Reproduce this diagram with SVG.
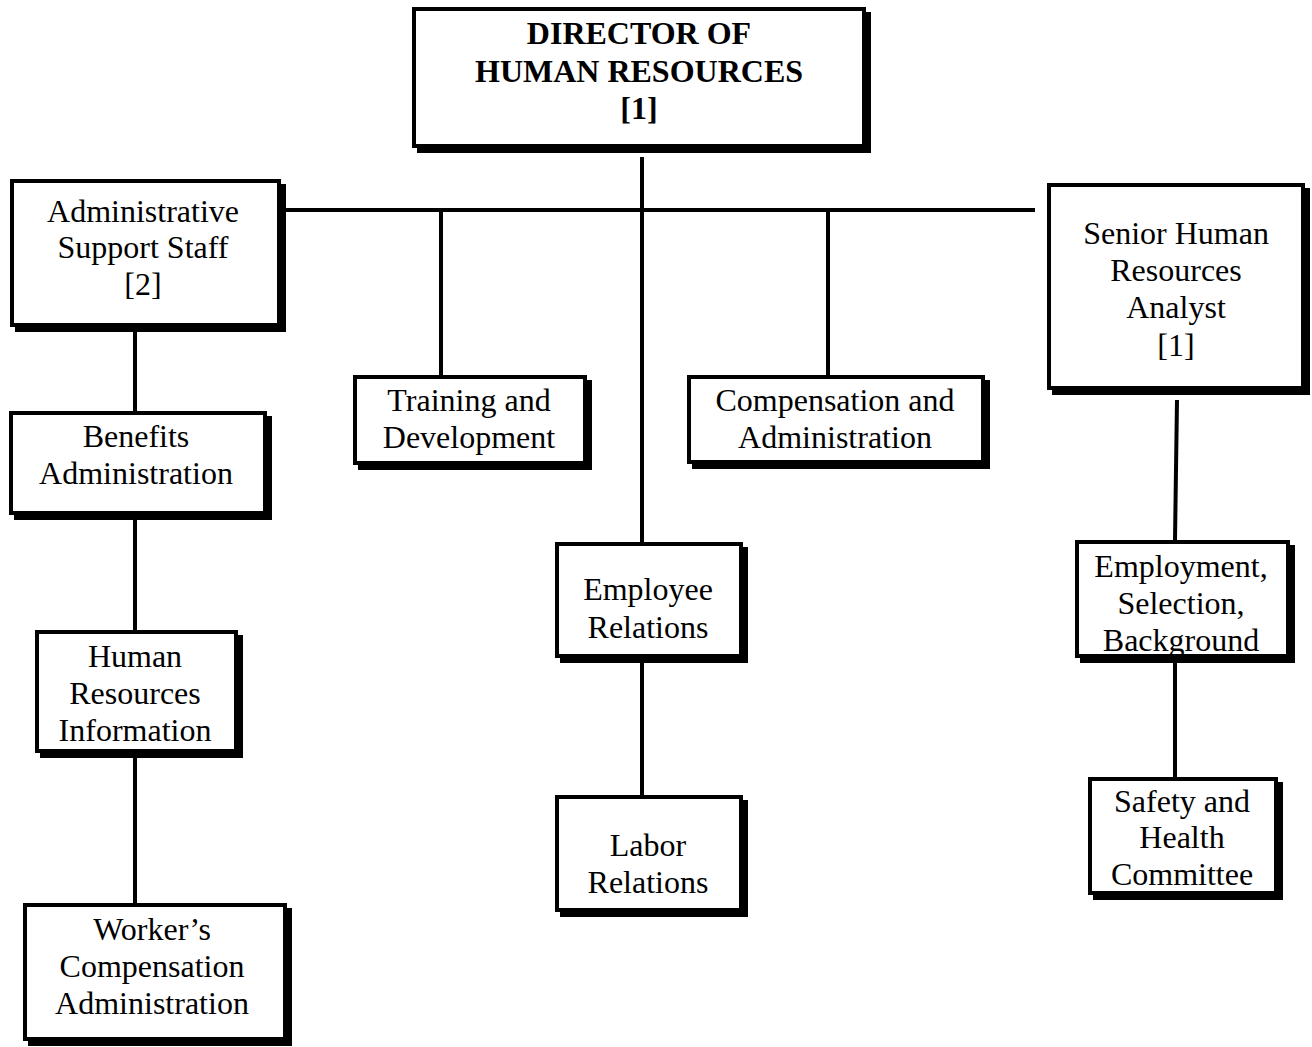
<svg xmlns="http://www.w3.org/2000/svg" width="1312" height="1047" viewBox="0 0 1312 1047">
  <style>
    .shadow { fill: #000; }
    .box { fill: #fff; stroke: #000; stroke-width: 4; }
    .lbl { font-family: "Liberation Serif", "Times New Roman", serif; font-size: 32px; text-anchor: middle; fill: #000; }
    .bold { font-weight: bold; }
    .wire { stroke: #000; stroke-width: 4; fill: none; }
  </style>
  <rect width="1312" height="1047" fill="#fff"/>

  <!-- reporting lines -->
  <g id="connectors">
    <line class="wire" x1="285" y1="210" x2="1035" y2="210"/>
    <line class="wire" x1="642" y1="157" x2="642" y2="542"/>
    <line class="wire" x1="441" y1="210" x2="441" y2="375"/>
    <line class="wire" x1="828" y1="210" x2="828" y2="375"/>
    <line class="wire" x1="135" y1="332" x2="135" y2="411"/>
    <line class="wire" x1="135" y1="520" x2="135" y2="630"/>
    <line class="wire" x1="135" y1="758" x2="135" y2="903"/>
    <line class="wire" x1="642" y1="663" x2="642" y2="795"/>
    <line class="wire" x1="1177" y1="400" x2="1175" y2="540"/>
    <line class="wire" x1="1175" y1="663" x2="1175" y2="777"/>
  </g>

  <g id="director">
    <rect class="shadow" x="417" y="12" width="454" height="141"/>
    <rect class="box" x="414" y="9" width="450" height="137"/>
    <text class="lbl bold" x="639" y="43.5">DIRECTOR OF</text>
    <text class="lbl bold" x="639" y="81.5">HUMAN RESOURCES</text>
    <text class="lbl bold" x="639" y="119">[1]</text>
  </g>

  <g id="admin-support">
    <rect class="shadow" x="15" y="184" width="271" height="148"/>
    <rect class="box" x="12" y="181" width="267" height="144"/>
    <text class="lbl" x="143" y="222">Administrative</text>
    <text class="lbl" x="143" y="258">Support Staff</text>
    <text class="lbl" x="143" y="295">[2]</text>
  </g>

  <g id="benefits">
    <rect class="shadow" x="14" y="416" width="258" height="104"/>
    <rect class="box" x="11" y="413" width="254" height="100"/>
    <text class="lbl" x="136" y="447">Benefits</text>
    <text class="lbl" x="136" y="484">Administration</text>
  </g>

  <g id="hr-information">
    <rect class="shadow" x="40" y="635" width="203" height="123"/>
    <rect class="box" x="37" y="632" width="199" height="119"/>
    <text class="lbl" x="135" y="667">Human</text>
    <text class="lbl" x="135" y="704">Resources</text>
    <text class="lbl" x="135" y="741">Information</text>
  </g>

  <g id="workers-comp">
    <rect class="shadow" x="28" y="908" width="264" height="138"/>
    <rect class="box" x="25" y="905" width="260" height="134"/>
    <text class="lbl" x="152" y="940">Worker’s</text>
    <text class="lbl" x="152" y="977">Compensation</text>
    <text class="lbl" x="152" y="1014">Administration</text>
  </g>

  <g id="training">
    <rect class="shadow" x="358" y="380" width="234" height="90"/>
    <rect class="box" x="355" y="377" width="230" height="86"/>
    <text class="lbl" x="469" y="411">Training and</text>
    <text class="lbl" x="469" y="448">Development</text>
  </g>

  <g id="compensation">
    <rect class="shadow" x="692" y="380" width="298" height="89"/>
    <rect class="box" x="689" y="377" width="294" height="85"/>
    <text class="lbl" x="835" y="411">Compensation and</text>
    <text class="lbl" x="835" y="448">Administration</text>
  </g>

  <g id="employee-relations">
    <rect class="shadow" x="560" y="547" width="188" height="116"/>
    <rect class="box" x="557" y="544" width="184" height="112"/>
    <text class="lbl" x="648" y="600">Employee</text>
    <text class="lbl" x="648" y="638">Relations</text>
  </g>

  <g id="labor-relations">
    <rect class="shadow" x="560" y="800" width="188" height="117"/>
    <rect class="box" x="557" y="797" width="184" height="113"/>
    <text class="lbl" x="648" y="856">Labor</text>
    <text class="lbl" x="648" y="893">Relations</text>
  </g>

  <g id="senior-analyst">
    <rect class="shadow" x="1052" y="188" width="258" height="207"/>
    <rect class="box" x="1049" y="185" width="254" height="203"/>
    <text class="lbl" x="1176" y="244">Senior Human</text>
    <text class="lbl" x="1176" y="281">Resources</text>
    <text class="lbl" x="1176" y="318">Analyst</text>
    <text class="lbl" x="1176" y="356">[1]</text>
  </g>

  <g id="employment">
    <rect class="shadow" x="1080" y="545" width="215" height="118"/>
    <rect class="box" x="1077" y="542" width="211" height="114"/>
    <text class="lbl" x="1181" y="577">Employment,</text>
    <text class="lbl" x="1181" y="614">Selection,</text>
    <text class="lbl" x="1181" y="651">Background</text>
  </g>

  <g id="safety-health">
    <rect class="shadow" x="1093" y="782" width="190" height="118"/>
    <rect class="box" x="1090" y="779" width="186" height="114"/>
    <text class="lbl" x="1182" y="812">Safety and</text>
    <text class="lbl" x="1182" y="848">Health</text>
    <text class="lbl" x="1182" y="885">Committee</text>
  </g>
</svg>
